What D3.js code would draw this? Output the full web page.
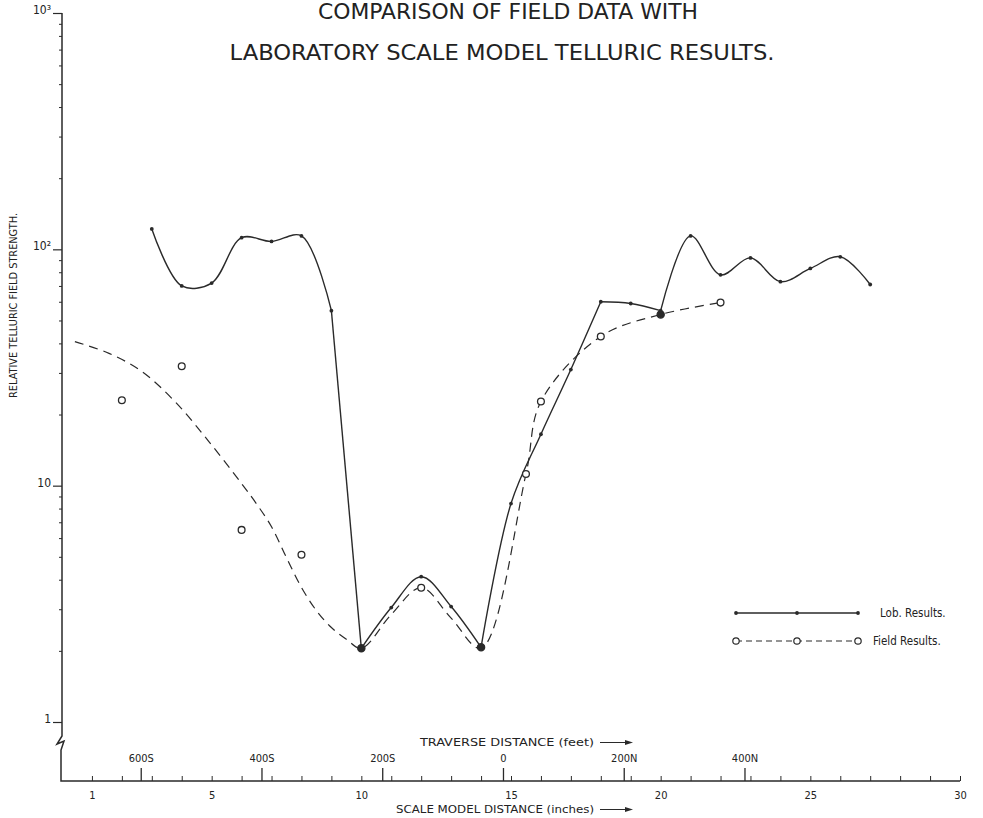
<!DOCTYPE html>
<html>
<head>
<meta charset="utf-8">
<script src="https://cdn.jsdelivr.net/npm/d3@7"></script>
<style>
  body { margin: 0; background: #fff; }
  svg { display: block; }
  text { font-family: "DejaVu Sans Condensed", "Liberation Sans Narrow", "DejaVu Sans", sans-serif; fill: #222; }
</style>
</head>
<body>
<div id="chart"></div>
<script>
// Lab results (scale model distance in inches, relative field strength)
const labX = [3, 4, 5, 6, 7, 8, 9, 10, 11, 12, 13, 14, 15, 16, 17, 18, 19, 20, 21, 22, 23, 24, 25, 26, 27];
const labV = [122, 70, 72, 112, 108, 114, 55, 2.05, 3.05, 4.12, 3.08, 2.07, 8.4, 16.5, 31, 60, 59, 55, 114, 78, 92, 73, 83, 93, 71];
// points where the hand-drawn lab curve has a sharp corner
const labCorners = [9, 10, 14, 18, 20];

// Field results (open circles)
const fieldX = [2, 4, 6, 8, 10, 12, 14, 15.5, 16, 18, 20, 22];
const fieldV = [23, 32, 6.5, 5.1, 2.05, 3.7, 2.07, 11.2, 22.7, 42.8, 53, 59.5];

// Dashed curve drawn through the field data
const trendX = [0.43, 1.57, 2.67, 3.77, 4.9, 6.0, 6.5, 7.0, 7.5, 8.0, 8.5, 9.0, 9.5, 10, 11, 12, 13, 14, 15.5, 16, 18, 20, 22];
const trendV = [40.7, 36.3, 30.4, 22.7, 15.4, 10.2, 8.37, 6.7, 4.96, 3.71, 2.96, 2.51, 2.24, 2.05, 2.85, 3.7, 2.75, 2.05, 11.2, 22.7, 42.8, 53, 59.5];

// Axis ticks
const inchTicks = [1, 2, 3, 4, 5, 6, 7, 8, 9, 10, 11, 12, 13, 14, 15, 16, 17, 18, 19, 20, 21, 22, 23, 24, 25, 26, 27, 28, 29, 30];
const inchLabels = [1, 5, 10, 15, 20, 25, 30];
const feetTicks = [-600, -400, -200, 0, 200, 400];
const feetLabels = ["600S", "400S", "200S", "0", "200N", "400N"];
const yMajor = [1, 10, 100, 1000];
const yMajorLabels = ["1", "10", "10²", "10³"];

const width = 983, height = 818;
const axisY = 781;

const svg = d3.select("#chart").append("svg")
  .attr("width", width)
  .attr("height", height);

svg.append("rect").attr("width", width).attr("height", height).attr("fill", "#fff");

const x = d3.scaleLinear().domain([0, 30]).range([62, 960]);
const feet = d3.scaleLinear().domain([-600, 400]).range([x(2.63), x(22.8)]);
const y = d3.scaleLog().domain([1, 1000]).range([722, 13]);

const ink = "#2a2a2a";

// Title
svg.append("text")
  .attr("x", 508).attr("y", 19)
  .attr("text-anchor", "middle")
  .attr("textLength", 380).attr("lengthAdjust", "spacingAndGlyphs")
  .style("font-size", "22px").style("font-weight", 300)
  .text("COMPARISON OF FIELD DATA WITH");
svg.append("text")
  .attr("x", 502).attr("y", 60)
  .attr("text-anchor", "middle")
  .attr("textLength", 545).attr("lengthAdjust", "spacingAndGlyphs")
  .style("font-size", "22px").style("font-weight", 300)
  .text("LABORATORY SCALE MODEL TELLURIC RESULTS.");

// Y axis
const yAxisG = svg.append("g")
  .attr("transform", `translate(${x(0)},0)`)
  .call(d3.axisLeft(y).tickValues(yMajor).tickSize(9).tickPadding(2)
    .tickFormat((d, i) => yMajorLabels[i]));
yAxisG.select(".domain").remove();
yAxisG.selectAll("line").attr("stroke", ink).attr("stroke-width", 1.2);
yAxisG.selectAll("text").style("font-size", "12px").attr("dy", "0.05em");

const yMinor = [];
[1, 10, 100].forEach(base => [2, 3, 4, 5, 6, 7, 8, 9].forEach(m => yMinor.push(base * m)));
const yMinorG = svg.append("g")
  .attr("transform", `translate(${x(0)},0)`)
  .call(d3.axisLeft(y).tickValues(yMinor).tickSize(3).tickFormat(""));
yMinorG.select(".domain").remove();
yMinorG.selectAll("line").attr("stroke", ink).attr("stroke-width", 1);

// Y axis line with break mark, then turning into the X axis
const x0 = x(0);
const brk = y(1) + 14;
const axisPath = d3.path();
axisPath.moveTo(x0, y(1000));
axisPath.lineTo(x0, brk);
axisPath.lineTo(x0 - 5, brk + 8);
axisPath.lineTo(x0 + 2, brk + 5);
axisPath.lineTo(x0 - 1, brk + 14);
axisPath.lineTo(x0 - 1, axisY);
axisPath.lineTo(x(30), axisY);
svg.append("path")
  .attr("d", axisPath.toString())
  .attr("fill", "none").attr("stroke", ink).attr("stroke-width", 1.5);

// Y label
svg.append("text")
  .attr("transform", `translate(17, ${y(Math.sqrt(10) * 10) - 62}) rotate(-90)`)
  .attr("text-anchor", "middle")
  .attr("textLength", 185).attr("lengthAdjust", "spacingAndGlyphs")
  .style("font-size", "10.5px")
  .text("RELATIVE TELLURIC FIELD STRENGTH.");

// X axis: scale model inches (labels below)
const xAxisG = svg.append("g")
  .attr("transform", `translate(0,${axisY})`)
  .call(d3.axisBottom(x).tickValues(inchTicks).tickSize(-5).tickPadding(10)
    .tickFormat(d => inchLabels.includes(d) ? d : ""));
xAxisG.select(".domain").remove();
xAxisG.selectAll("line").attr("stroke", ink).attr("stroke-width", 1);
xAxisG.selectAll("text").style("font-size", "11px");

// X axis: traverse distance feet (labels above)
const feetG = svg.append("g")
  .attr("transform", `translate(0,${axisY})`)
  .call(d3.axisTop(feet).tickValues(feetTicks).tickSize(13).tickPadding(6)
    .tickFormat((d, i) => feetLabels[i]));
feetG.select(".domain").remove();
feetG.selectAll("line").attr("stroke", ink).attr("stroke-width", 1.3);
feetG.selectAll("text").style("font-size", "11px");

// Axis titles with arrows
function arrowLabel(label, left, len, cy) {
  const g = svg.append("g");
  g.append("text")
    .attr("x", left).attr("y", cy)
    .style("font-size", "10px")
    .attr("textLength", len).attr("lengthAdjust", "spacingAndGlyphs")
    .text(label);
  const ax = left + len + 6;
  g.append("line")
    .attr("x1", ax).attr("x2", ax + 28)
    .attr("y1", cy - 3.5).attr("y2", cy - 3.5)
    .attr("stroke", ink).attr("stroke-width", 1);
  g.append("path")
    .attr("d", `M${ax + 33},${cy - 3.5} L${ax + 25},${cy - 6} L${ax + 25},${cy - 1} Z`)
    .attr("fill", ink);
}
arrowLabel("TRAVERSE  DISTANCE    (feet)", 420, 174, 746);
arrowLabel("SCALE  MODEL  DISTANCE    (inches)", 396, 198, 813);

// Data
const labData = labX.map((d, i) => ({ x: d, v: labV[i] }));
const fieldData = fieldX.map((d, i) => ({ x: d, v: fieldV[i] }));
const trendData = trendX.map((d, i) => ({ x: d, v: trendV[i] }));

const line = d3.line()
  .x(d => x(d.x))
  .y(d => y(d.v))
  .curve(d3.curveCatmullRom.alpha(0.5));

svg.append("path")
  .datum(trendData)
  .attr("d", line)
  .attr("fill", "none")
  .attr("stroke", ink)
  .attr("stroke-width", 1.2)
  .attr("stroke-dasharray", "9,6");

// Lab curve: smooth pieces joined at the sharp corners
const labPieces = [];
let piece = [];
labData.forEach(d => {
  piece.push(d);
  if (labCorners.includes(d.x)) {
    labPieces.push(piece);
    piece = [d];
  }
});
labPieces.push(piece);

svg.selectAll(".lab-line")
  .data(labPieces)
  .enter()
  .append("path")
  .attr("class", "lab-line")
  .attr("d", line)
  .attr("fill", "none")
  .attr("stroke", ink)
  .attr("stroke-width", 1.4);

// Where lab and field values coincide the point is drawn as a large solid dot
const coincide = d => labData.some(l => l.x === d.x && Math.abs(Math.log(l.v / d.v)) < 0.05);

svg.selectAll(".field-pt")
  .data(fieldData)
  .enter()
  .append("circle")
  .attr("class", "field-pt")
  .attr("cx", d => x(d.x))
  .attr("cy", d => y(d.v))
  .attr("r", d => coincide(d) ? 3.6 : 3.4)
  .attr("fill", d => coincide(d) ? ink : "#fff")
  .attr("stroke", ink)
  .attr("stroke-width", 1.3);

svg.selectAll(".lab-pt")
  .data(labData)
  .enter()
  .append("circle")
  .attr("class", "lab-pt")
  .attr("cx", d => x(d.x))
  .attr("cy", d => y(d.v))
  .attr("r", 1.9)
  .attr("fill", ink);

// Legend
const legX = [736, 797, 858];
const legend = svg.append("g");
legend.append("line")
  .attr("x1", legX[0]).attr("x2", legX[2])
  .attr("y1", 613).attr("y2", 613)
  .attr("stroke", ink).attr("stroke-width", 1.3);
legend.selectAll(".leg-lab")
  .data(legX).enter().append("circle")
  .attr("cx", d => d).attr("cy", 613).attr("r", 1.9).attr("fill", ink);
legend.append("text")
  .attr("x", 880).attr("y", 617)
  .style("font-size", "11.5px")
  .text("Lob. Results.");

legend.append("line")
  .attr("x1", legX[0]).attr("x2", legX[2])
  .attr("y1", 641).attr("y2", 641)
  .attr("stroke", ink).attr("stroke-width", 1.2)
  .attr("stroke-dasharray", "6,4");
legend.selectAll(".leg-field")
  .data(legX).enter().append("circle")
  .attr("cx", d => d).attr("cy", 641).attr("r", 3.2)
  .attr("fill", "#fff").attr("stroke", ink).attr("stroke-width", 1.2);
legend.append("text")
  .attr("x", 873).attr("y", 645)
  .style("font-size", "11.5px")
  .text("Field Results.");
</script>
</body>
</html>
